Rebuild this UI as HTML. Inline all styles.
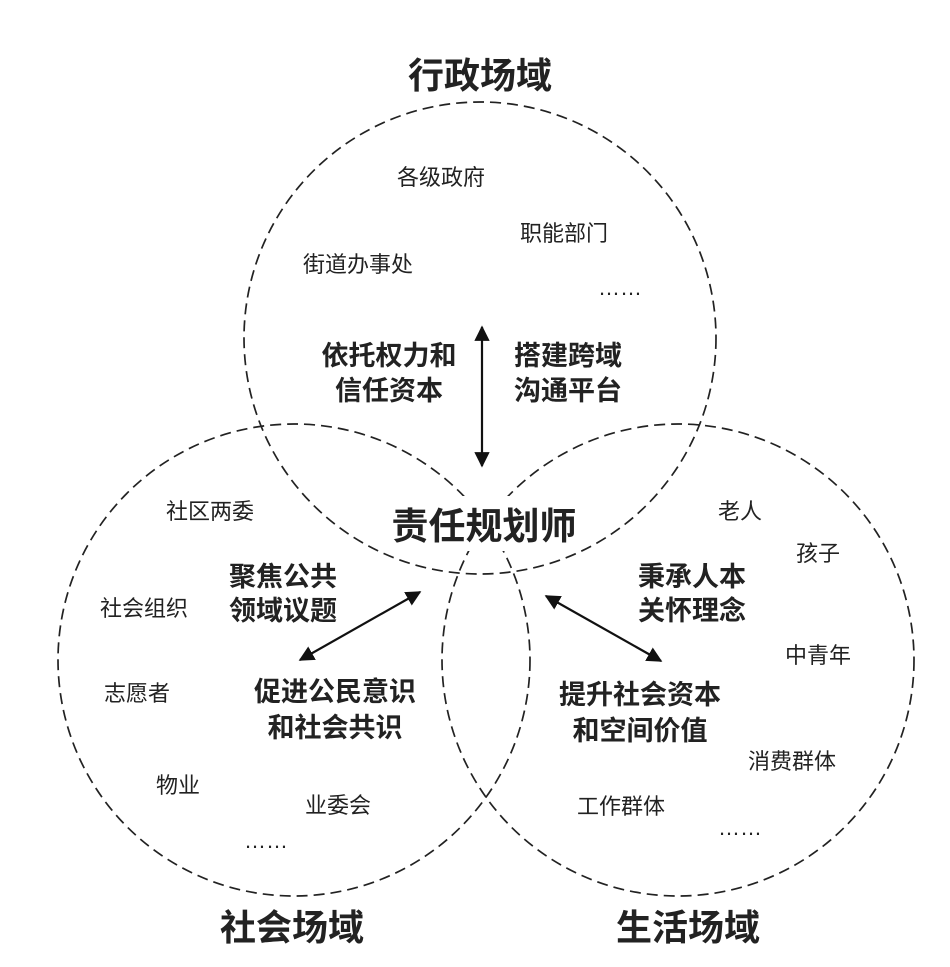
<!DOCTYPE html>
<html><head><meta charset="utf-8"><style>
html,body{margin:0;padding:0;background:#fff;}
body{width:950px;height:962px;overflow:hidden;}
svg text{font-family:"Liberation Sans","Noto Sans CJK SC",sans-serif;fill:#222;}
.t{font-size:36px;font-weight:bold;}
.b{font-size:27px;font-weight:bold;}
.s{font-size:22px;}
.c{font-size:37px;font-weight:bold;}
</style></head><body>
<svg width="950" height="962" viewBox="0 0 950 962">
<defs>
<marker id="a" viewBox="0 0 10 10" refX="9" refY="5" markerWidth="7" markerHeight="7" orient="auto-start-reverse">
<path d="M0,0 L10,5 L0,10 z" fill="#111"/></marker>
</defs>
<g fill="none" stroke="#222" stroke-width="1.7" stroke-dasharray="11,6">
<circle cx="480" cy="338" r="236"/>
<circle cx="294" cy="660" r="236"/>
<circle cx="678" cy="660" r="236"/>
</g>
<rect x="388" y="496" width="190" height="55" fill="#fff"/>
<g stroke="#111" stroke-width="2.2">
<line x1="482" y1="327" x2="482" y2="466" marker-start="url(#a)" marker-end="url(#a)"/>
<line x1="300" y1="660" x2="420" y2="592" marker-start="url(#a)" marker-end="url(#a)"/>
<line x1="546" y1="596" x2="661" y2="661" marker-start="url(#a)" marker-end="url(#a)"/>
</g>
<text class="t" x="480" y="88" text-anchor="middle">行政场域</text>
<text class="t" x="292" y="940" text-anchor="middle">社会场域</text>
<text class="t" x="688" y="940" text-anchor="middle">生活场域</text>
<text class="c" x="484" y="539" text-anchor="middle">责任规划师</text>
<text class="s" x="397" y="185">各级政府</text>
<text class="s" x="520" y="241">职能部门</text>
<text class="s" x="303" y="272">街道办事处</text>
<text class="s" x="598" y="295">……</text>
<text class="b" x="389" y="365" text-anchor="middle">依托权力和</text>
<text class="b" x="389" y="400" text-anchor="middle">信任资本</text>
<text class="b" x="568" y="365" text-anchor="middle">搭建跨域</text>
<text class="b" x="568" y="400" text-anchor="middle">沟通平台</text>
<text class="s" x="166" y="519">社区两委</text>
<text class="s" x="100" y="616">社会组织</text>
<text class="s" x="104" y="701">志愿者</text>
<text class="s" x="156" y="793">物业</text>
<text class="s" x="305" y="813">业委会</text>
<text class="s" x="244" y="848">……</text>
<text class="b" x="283" y="586" text-anchor="middle">聚焦公共</text>
<text class="b" x="283" y="620" text-anchor="middle">领域议题</text>
<text class="b" x="335" y="701" text-anchor="middle">促进公民意识</text>
<text class="b" x="335" y="737" text-anchor="middle">和社会共识</text>
<text class="s" x="718" y="519">老人</text>
<text class="s" x="796" y="561">孩子</text>
<text class="s" x="785" y="663">中青年</text>
<text class="s" x="748" y="769">消费群体</text>
<text class="s" x="577" y="814">工作群体</text>
<text class="s" x="718" y="835">……</text>
<text class="b" x="692" y="586" text-anchor="middle">秉承人本</text>
<text class="b" x="692" y="620" text-anchor="middle">关怀理念</text>
<text class="b" x="640" y="704" text-anchor="middle">提升社会资本</text>
<text class="b" x="640" y="740" text-anchor="middle">和空间价值</text>
</svg>
</body></html>
